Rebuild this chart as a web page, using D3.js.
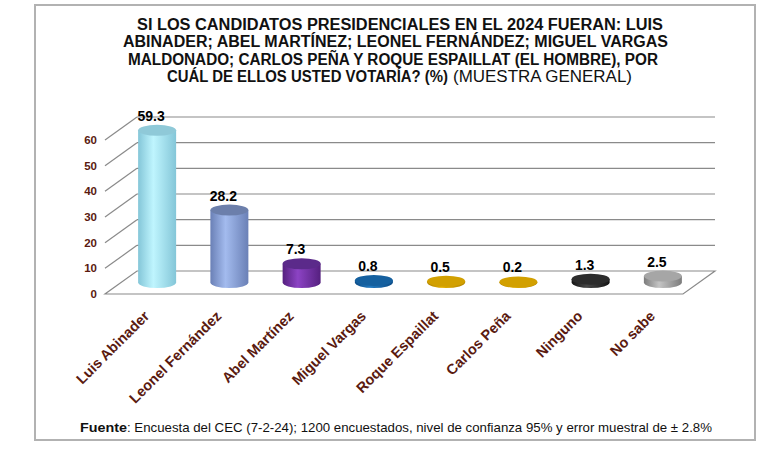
<!DOCTYPE html>
<html lang="es">

<head>
    <meta charset="UTF-8">
    <title>Encuesta CEC - 3D cylinder chart</title>
    <script src="https://d3js.org/d3.v7.min.js"></script>
    <style>
        body { margin: 0; background: #fff; }
        svg { display: block; font-family: "Liberation Sans", Arial, sans-serif; }
    </style>
</head>

<body>
    <div id="chart"></div>
    <script>
        // Data
        const categories = ["Luis Abinader", "Leonel Fernández", "Abel Martínez", "Miguel Vargas",
            "Roque Espaillat", "Carlos Peña", "Ninguno", "No sabe"];
        const values = [59.3, 28.2, 7.3, 0.8, 0.5, 0.2, 1.3, 2.5];
        const yTicks = [0, 10, 20, 30, 40, 50, 60];

        // colours per cylinder: [edge, light, top]
        const palette = [
            ["#84c6d8", "#bff5fe", "#8fc9d8"],
            ["#6a80b6", "#a3bbee", "#6c7fab"],
            ["#55207f", "#8c43c4", "#5b2a8a"],
            ["#0d4c86", "#2279c0", "#15609f"],
            ["#b08300", "#e6b000", "#d2a000"],
            ["#b08300", "#e6b000", "#d2a000"],
            ["#151515", "#474747", "#2c2c2c"],
            ["#7c7c7c", "#c4c4c4", "#a6a6a6"]
        ];

        const width = 772, height = 475;
        const dx = 32, dy = -23;      // depth offset of the 3D box
        const rx = 19, ry = 5.5;      // cylinder ellipse radii

        const svg = d3.select("#chart").append("svg")
            .attr("width", width)
            .attr("height", height);

        // outer frame
        svg.append("rect")
            .attr("x", 35).attr("y", 5)
            .attr("width", 720).attr("height", 435)
            .attr("fill", "#fff")
            .attr("stroke", "#b2b2b2")
            .attr("stroke-width", 2);

        // title, 4 lines (last one mixes bold and normal)
        const titleLines = [
            { t: "SI LOS CANDIDATOS PRESIDENCIALES EN EL 2024 FUERAN: LUIS", x0: 137, x1: 663, y: 29.5 },
            { t: "ABINADER; ABEL MARTÍNEZ; LEONEL FERNÁNDEZ; MIGUEL VARGAS", x0: 123, x1: 668, y: 47 },
            { t: "MALDONADO; CARLOS PEÑA Y ROQUE ESPAILLAT (EL HOMBRE), POR", x0: 128, x1: 658, y: 64.5 },
            { t: "CUÁL DE ELLOS USTED VOTARÍA? (%)", x0: 167, x1: 448, y: 82 }
        ];
        svg.selectAll("text.title")
            .data(titleLines)
            .join("text")
            .attr("class", "title")
            .attr("x", d => d.x0)
            .attr("y", d => d.y)
            .attr("textLength", d => d.x1 - d.x0)
            .attr("lengthAdjust", "spacingAndGlyphs")
            .attr("font-size", "16px")
            .attr("font-weight", "bold")
            .attr("fill", "#111")
            .text(d => d.t);
        svg.append("text")
            .attr("x", 453).attr("y", 82)
            .attr("textLength", 179)
            .attr("lengthAdjust", "spacingAndGlyphs")
            .attr("font-size", "16px")
            .attr("fill", "#111")
            .text("(MUESTRA GENERAL)");

        // scales
        const x = d3.scaleBand().domain(categories).range([105, 683]);
        const y = d3.scaleLinear().domain([0, 60]).range([294, 140]);
        const x0 = x.range()[0], x1 = x.range()[1];

        const grid = svg.append("g")
            .attr("stroke", "#8a8a8a")
            .attr("stroke-width", 1.2)
            .attr("fill", "none");

        // back wall lines + left diagonals
        grid.selectAll("line.back")
            .data(yTicks.filter(t => t > 0))
            .join("line")
            .attr("class", "back")
            .attr("x1", x0 + dx).attr("x2", x1 + dx)
            .attr("y1", d => y(d) + dy).attr("y2", d => y(d) + dy);
        grid.selectAll("line.diag")
            .data(yTicks.filter(t => t > 0))
            .join("line")
            .attr("class", "diag")
            .attr("x1", x0).attr("x2", x0 + dx)
            .attr("y1", d => y(d)).attr("y2", d => y(d) + dy);

        // floor
        grid.append("path")
            .attr("d", `M${x0},${y(0)}L${x1},${y(0)}L${x1 + dx},${y(0) + dy}L${x0 + dx},${y(0) + dy}Z`);

        // y tick labels
        svg.selectAll("text.tick")
            .data(yTicks)
            .join("text")
            .attr("class", "tick")
            .attr("x", 97)
            .attr("y", d => y(d) + 4)
            .attr("text-anchor", "end")
            .attr("font-size", "11.5px")
            .attr("font-weight", "bold")
            .attr("fill", "#5a1a10")
            .text(d => d);

        // gradients
        const defs = svg.append("defs");
        palette.forEach((p, i) => {
            const g = defs.append("linearGradient")
                .attr("id", "cyl" + i)
                .attr("x1", 0).attr("x2", 1).attr("y1", 0).attr("y2", 0);
            g.append("stop").attr("offset", "0%").attr("stop-color", p[0]);
            g.append("stop").attr("offset", "40%").attr("stop-color", p[1]);
            g.append("stop").attr("offset", "100%").attr("stop-color", p[0]);
        });

        const cx = c => x(c) + x.bandwidth() / 2 + dx / 2;
        const cyBase = y(0) + dy / 2;
        const cyTop = v => y(v) + dy / 2;

        const bars = svg.selectAll("g.bar")
            .data(categories.map((c, i) => ({ c, v: values[i], i })))
            .join("g")
            .attr("class", "bar");

        bars.append("path")
            .attr("fill", d => `url(#cyl${d.i})`)
            .attr("d", d => {
                const l = cx(d.c) - rx, r = cx(d.c) + rx, t = cyTop(d.v);
                return `M${l},${t}L${l},${cyBase}A${rx},${ry} 0 0 0 ${r},${cyBase}L${r},${t}Z`;
            });
        bars.append("ellipse")
            .attr("cx", d => cx(d.c))
            .attr("cy", d => cyTop(d.v))
            .attr("rx", rx).attr("ry", ry)
            .attr("fill", d => palette[d.i][2]);

        // value labels
        bars.append("text")
            .attr("x", d => cx(d.c) - 6)
            .attr("y", d => cyTop(d.v) - ry - 4)
            .attr("text-anchor", "middle")
            .attr("font-size", "14px")
            .attr("font-weight", "bold")
            .attr("fill", "#000")
            .text(d => d.v.toFixed(1));

        // category labels, rotated
        svg.selectAll("text.cat")
            .data(categories)
            .join("text")
            .attr("class", "cat")
            .attr("transform", d => `translate(${cx(d) - 7},317) rotate(-45)`)
            .attr("text-anchor", "end")
            .attr("font-size", "14.5px")
            .attr("font-weight", "bold")
            .attr("fill", "#5a1a10")
            .text(d => d);

        // footer
        svg.append("text")
            .attr("x", 80).attr("y", 432)
            .attr("textLength", 47)
            .attr("lengthAdjust", "spacingAndGlyphs")
            .attr("font-size", "13px")
            .attr("font-weight", "bold")
            .attr("fill", "#111")
            .text("Fuente");
        svg.append("text")
            .attr("x", 127).attr("y", 432)
            .attr("textLength", 585)
            .attr("lengthAdjust", "spacingAndGlyphs")
            .attr("font-size", "13px")
            .attr("fill", "#111")
            .text(": Encuesta del CEC (7-2-24); 1200 encuestados, nivel de confianza 95% y error muestral de ± 2.8%");
    </script>
</body>

</html>
